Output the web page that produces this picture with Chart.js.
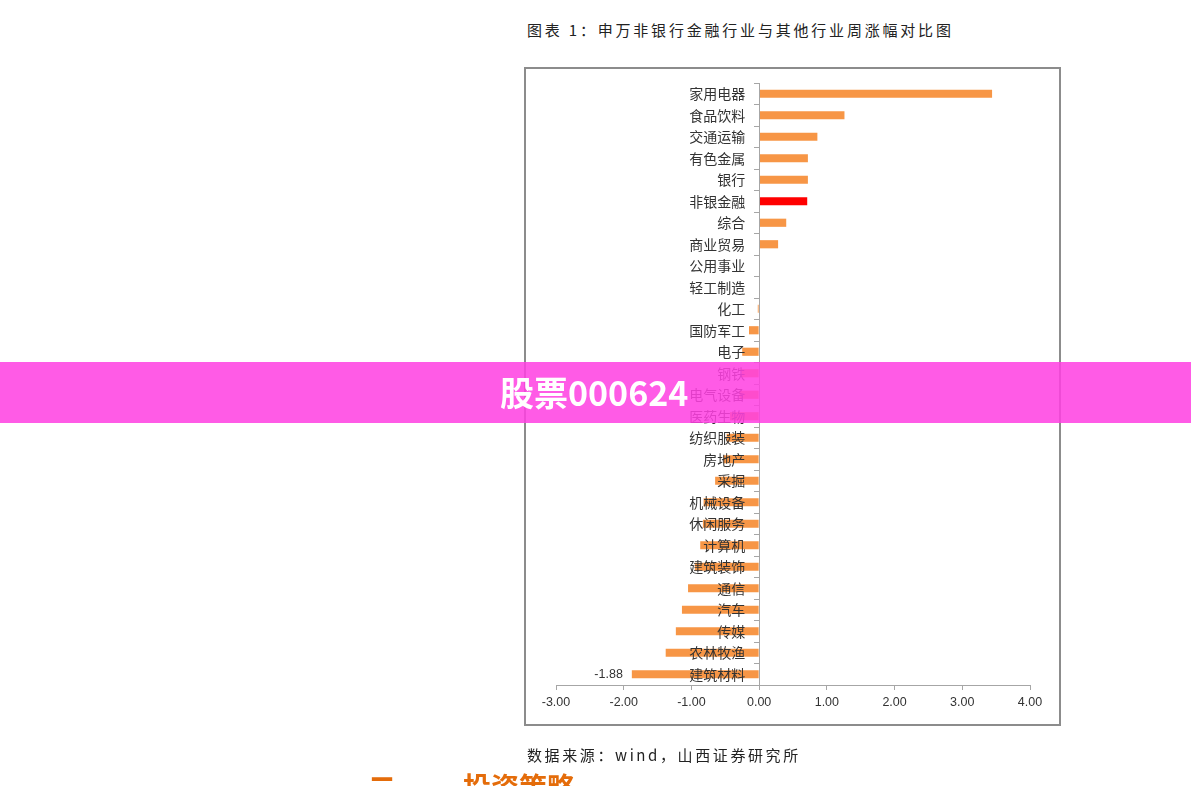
<!DOCTYPE html>
<html>
<head>
<meta charset="utf-8">
<script src="https://cdn.jsdelivr.net/npm/chart.js@4.4.1/dist/chart.umd.min.js"></script>
<style>
  html, body { margin: 0; padding: 0; background: #fff; width: 1191px; height: 786px; overflow: hidden; }
  #frame { position: absolute; left: 524px; top: 67px; width: 533px; height: 655px; border: 2px solid #8c8c8c; }
  #c { position: absolute; left: 0; top: 0; }
  .txt { position: absolute; font-family: "Noto Sans CJK SC", sans-serif; color: #222; white-space: nowrap; }
  #title { left: 527px; top: 19px; font-size: 15px; letter-spacing: 2.8px; }
  #source { left: 527px; top: 744px; font-size: 15px; letter-spacing: 2.6px; }
  #banner { position: absolute; left: 0; top: 362px; width: 1191px; height: 61px; background: rgba(255,64,226,0.86); }
  #banner span { position: absolute; left: 500px; top: 8px; font-family: "Noto Sans CJK SC", sans-serif; font-weight: bold; font-size: 34px; color: #fff; line-height: 44px; }
  .head { position: absolute; font-family: "Noto Sans CJK SC", sans-serif; font-weight: bold; font-size: 28px; color: #E46C0A; line-height: 28px; top: 772px; }
</style>
</head>
<body>
<div id="frame"></div>
<div class="txt" id="title">图表 1：申万非银行金融行业与其他行业周涨幅对比图</div>
<canvas id="c" width="1191" height="786"></canvas>
<div class="txt" id="source">数据来源：wind，山西证券研究所</div>
<div class="head" style="left:368px;">二</div>
<div class="head" style="left:463px;">投资策略</div>
<div id="banner"><span>股票000624</span></div>
<script>
const categories = ["家用电器","食品饮料","交通运输","有色金属","银行","非银金融","综合","商业贸易","公用事业","轻工制造","化工","国防军工","电子","钢铁","电气设备","医药生物","纺织服装","房地产","采掘","机械设备","休闲服务","计算机","建筑装饰","通信","汽车","传媒","农林牧渔","建筑材料"];
const weeklyChange = [3.44,1.26,0.86,0.72,0.72,0.71,0.40,0.28,0.01,0.00,-0.02,-0.15,-0.25,-0.26,-0.29,-0.43,-0.48,-0.53,-0.65,-0.82,-0.83,-0.87,-0.95,-1.05,-1.14,-1.23,-1.38,-1.88];
const highlightCategory = "非银金融";
const labelledCategory = "建筑材料";
const xTicks = [-3,-2,-1,0,1,2,3,4];

const ORANGE = "#F79646", RED = "#FF0000";
const barColors = categories.map(c => c === highlightCategory ? RED : ORANGE);

const valueLabelPlugin = {
  id: "valueLabel",
  afterDatasetsDraw(chart) {
    const meta = chart.getDatasetMeta(0);
    const idx = categories.indexOf(labelledCategory);
    const el = meta.data[idx];
    const ctx = chart.ctx;
    ctx.save();
    ctx.font = "12.5px 'Liberation Sans', sans-serif";
    ctx.fillStyle = "#333";
    ctx.textAlign = "right";
    ctx.textBaseline = "middle";
    ctx.fillText(weeklyChange[idx].toFixed(2), el.x - 9, el.y);
    ctx.restore();
  }
};

new Chart(document.getElementById("c"), {
  type: "bar",
  data: {
    labels: categories,
    datasets: [{
      data: weeklyChange,
      backgroundColor: barColors,
      borderWidth: 0,
      barPercentage: 0.38,
      categoryPercentage: 1
    }]
  },
  options: {
    indexAxis: "y",
    responsive: false,
    animation: false,
    layout: { padding: { left: 556, right: 161, top: 83, bottom: 71 } },
    plugins: { legend: { display: false }, tooltip: { enabled: false } },
    scales: {
      x: {
        type: "linear",
        position: "bottom",
        min: xTicks[0],
        max: xTicks[xTicks.length - 1],
        afterBuildTicks(scale) { scale.ticks = xTicks.map(v => ({ value: v })); },
        afterFit(scale) { scale.height = 30; },
        grid: { drawOnChartArea: false, drawTicks: true, tickLength: 5, color: "#a6a6a6" },
        border: { color: "#a6a6a6", width: 1 },
        ticks: {
          padding: 5,
          color: "#333",
          font: { family: "'Liberation Sans', sans-serif", size: 12.5 },
          callback: v => Number(v).toFixed(2),
          maxRotation: 0
        }
      },
      y: {
        type: "category",
        position: { x: 0 },
        grid: { drawOnChartArea: false, drawTicks: true, tickLength: 5, color: "#a6a6a6", offset: true, z: 1 },
        border: { color: "#a6a6a6", width: 1, z: 1 },
        ticks: {
          z: 1,
          color: "#333",
          padding: 0,
          font: { family: "'Noto Sans CJK SC', sans-serif", size: 14 },
          callback(v) { return this.getLabelForValue(v) + "\u2002\u2002"; },
          autoSkip: false
        }
      }
    }
  },
  plugins: [valueLabelPlugin]
});
</script>
</body>
</html>
